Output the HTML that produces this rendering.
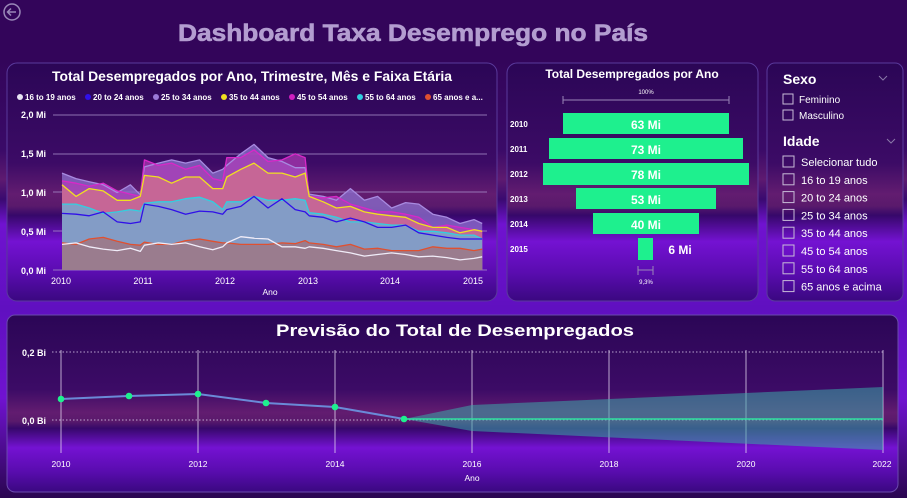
<!DOCTYPE html>
<html><head><meta charset="utf-8"><style>
html,body{margin:0;padding:0;width:907px;height:498px;overflow:hidden;background:#33055a}
svg{display:block}
text{font-family:"Liberation Sans",sans-serif}
.b{font-weight:700}
</style></head><body>
<svg id="s" width="907" height="498" viewBox="0 0 907 498" xmlns="http://www.w3.org/2000/svg">
<defs>
<linearGradient id="pg" x1="0" y1="0" x2="0" y2="1">
<stop offset="0" stop-color="#2b0656"/><stop offset="0.42" stop-color="#3c0b66"/><stop offset="0.55" stop-color="#621c70"/><stop offset="0.6" stop-color="#5a1a6c"/><stop offset="0.64" stop-color="#36086a"/><stop offset="0.75" stop-color="#7412d2"/><stop offset="0.88" stop-color="#5a0cb0"/><stop offset="1" stop-color="#3a0880"/>
</linearGradient>
<linearGradient id="bg" x1="0" y1="0" x2="0" y2="1">
<stop offset="0" stop-color="#33055a"/><stop offset="0.12" stop-color="#33055a"/><stop offset="0.3" stop-color="#3a0a68"/><stop offset="0.36" stop-color="#5e1a70"/><stop offset="0.4" stop-color="#3a0a70"/><stop offset="0.45" stop-color="#7012d0"/><stop offset="0.62" stop-color="#6010c0"/><stop offset="0.8" stop-color="#7012d0"/><stop offset="1" stop-color="#2a0650"/>
</linearGradient>
</defs>
<rect width="907" height="498" fill="url(#bg)"/>
<circle cx="12" cy="12" r="8" fill="none" stroke="#9a88b8" stroke-width="1.5"/>
<path d="M16 12H8M11 8.5L7.5 12L11 15.5" fill="none" stroke="#9a88b8" stroke-width="1.5"/>
<text class="b" x="413" y="41" text-anchor="middle" font-size="24" fill="#b39dd0" stroke="#b39dd0" stroke-width="0.6" textLength="470" lengthAdjust="spacingAndGlyphs">Dashboard  Taxa Desemprego no País</text>

<rect x="7" y="63" width="490" height="238" rx="10" fill="url(#pg)" stroke="#5a3a9c"/>
<rect x="507" y="63" width="251" height="238" rx="10" fill="url(#pg)" stroke="#5a3a9c"/>
<rect x="767" y="63" width="136" height="238" rx="8" fill="url(#pg)" stroke="#5a3a9c"/>
<rect x="7" y="315" width="891" height="177" rx="8" fill="url(#pg)" stroke="#6a4aac"/>

<text class="b" x="252" y="81" text-anchor="middle" font-size="13.5" fill="#fff" textLength="400" lengthAdjust="spacingAndGlyphs">Total Desempregados por Ano, Trimestre, Mês e Faixa Etária</text>
<g font-size="8" class="b" fill="#fff" id="leg"></g>
<g font-size="9" class="b" fill="#fff" text-anchor="end">
<text x="46" y="118">2,0 Mi</text><text x="46" y="157">1,5 Mi</text><text x="46" y="196">1,0 Mi</text><text x="46" y="235">0,5 Mi</text><text x="46" y="274">0,0 Mi</text></g>
<g stroke="#a58cc8" stroke-width="1" opacity="0.8">
<line x1="53" x2="487" y1="115" y2="115"/><line x1="53" x2="487" y1="154" y2="154"/><line x1="53" x2="487" y1="192" y2="192"/><line x1="53" x2="487" y1="231" y2="231"/><line x1="53" x2="487" y1="270" y2="270"/></g>
<g id="areas"></g>
<g font-size="9" fill="#fff" text-anchor="middle">
<text x="61" y="284">2010</text><text x="143" y="284">2011</text><text x="225" y="284">2012</text><text x="308" y="284">2013</text><text x="390" y="284">2014</text><text x="473" y="284">2015</text>
<text x="270" y="295" font-size="8.5">Ano</text></g>

<text class="b" x="632" y="78" text-anchor="middle" font-size="12" fill="#fff">Total Desempregados por Ano</text>
<text x="646" y="94" text-anchor="middle" font-size="6" fill="#fff">100%</text>
<path d="M563 96V104M563 100H729M729 96V104" stroke="#9a86b8" fill="none"/>
<g fill="#1ef08e">
<rect x="563" y="113" width="166" height="21"/><rect x="549" y="138" width="194" height="21"/><rect x="543" y="163" width="206" height="22"/><rect x="576" y="188" width="140" height="21"/><rect x="593" y="213" width="106" height="21"/><rect x="638" y="238" width="15" height="22"/></g>
<g font-size="12" class="b" fill="#fff" text-anchor="middle">
<text x="646" y="129">63 Mi</text><text x="646" y="154">73 Mi</text><text x="646" y="179">78 Mi</text><text x="646" y="204">53 Mi</text><text x="646" y="229">40 Mi</text><text x="680" y="254">6 Mi</text></g>
<g font-size="8" class="b" fill="#fff">
<text x="510" y="127">2010</text><text x="510" y="152">2011</text><text x="510" y="177">2012</text><text x="510" y="202">2013</text><text x="510" y="227">2014</text><text x="510" y="252">2015</text></g>
<path d="M638 266V275M638 270H653M653 266V275" stroke="#9a86b8" fill="none"/>
<text x="646" y="284" text-anchor="middle" font-size="6" fill="#fff">9,3%</text>

<text x="783" y="84" font-size="14" class="b" fill="#fff">Sexo</text>
<path d="M879 76l4 4 4-4" stroke="#8a78a8" fill="none"/>
<text x="783" y="146" font-size="14" class="b" fill="#fff">Idade</text>
<path d="M887 139l4 4 4-4" stroke="#8a78a8" fill="none"/>
<g id="sl" font-size="11" fill="#fff"></g>

<text class="b" x="455" y="336" text-anchor="middle" font-size="17" fill="#fff" textLength="358" lengthAdjust="spacingAndGlyphs">Previsão  do Total  de Desempregados</text>
<g stroke="#d8c8ea" stroke-width="1" stroke-dasharray="1.5,2" opacity="0.8"><line x1="52" x2="885" y1="352" y2="352"/><line x1="52" x2="885" y1="420" y2="420"/></g>
<g stroke="#e8ddf4" stroke-width="1" opacity="0.75">
<line x1="61" x2="61" y1="350" y2="453"/><line x1="198" x2="198" y1="350" y2="453"/><line x1="335" x2="335" y1="350" y2="453"/><line x1="472" x2="472" y1="350" y2="453"/><line x1="609" x2="609" y1="350" y2="453"/><line x1="746" x2="746" y1="350" y2="453"/><line x1="883" x2="883" y1="350" y2="453"/></g>
<polygon points="404,419 472,405 883,387 883,450 472,431" fill="#3aa8a8" opacity="0.55"/>
<line x1="404" x2="883" y1="419" y2="419" stroke="#30e0a0" stroke-width="1.5"/>
<polyline points="61,399 129,396 198,394 266,403 335,407 404,419" fill="none" stroke="#6a8ad8" stroke-width="2"/>
<g fill="#1ef08e"><circle cx="61" cy="399" r="3.3"/><circle cx="129" cy="396" r="3.3"/><circle cx="198" cy="394" r="3.3"/><circle cx="266" cy="403" r="3.3"/><circle cx="335" cy="407" r="3.3"/><circle cx="404" cy="419" r="3.3"/></g>
<g font-size="9" class="b" fill="#fff" text-anchor="end"><text x="46" y="356">0,2 Bi</text><text x="46" y="424">0,0 Bi</text></g>
<g font-size="8.5" fill="#fff" text-anchor="middle">
<text x="61" y="467">2010</text><text x="198" y="467">2012</text><text x="335" y="467">2014</text><text x="472" y="467">2016</text><text x="609" y="467">2018</text><text x="746" y="467">2020</text><text x="882" y="467">2022</text>
<text x="472" y="481">Ano</text></g>
</svg>
<script>
var NS="http://www.w3.org/2000/svg";
function el(t,a,p,txt){var e=document.createElementNS(NS,t);for(var k in a)e.setAttribute(k,a[k]);if(txt)e.textContent=txt;p.appendChild(e);return e;}
var leg=document.getElementById('leg');
var L=[["16 to 19 anos","#e8e4f4",17],["20 to 24 anos","#3010e8",85],["25 to 34 anos","#9a7ad8",153],["35 to 44 anos","#f0e020",221],["45 to 54 anos","#d020c0",289],["55 to 64 anos","#30d0e0",357],["65 anos e a...","#e05030",425]];
L.forEach(function(l){el('circle',{cx:l[2]+3,cy:97,r:3,fill:l[1]},leg);el('text',{x:l[2]+8,y:100},leg,l[0]);});
var X=[0,.17,.33,.5,.67,.83,.95,1.0,1.17,1.33,1.5,1.67,1.83,1.95,2.0,2.17,2.33,2.5,2.67,2.83,2.95,3.0,3.17,3.33,3.5,3.67,3.83,4.0,4.17,4.33,4.5,4.67,4.83,5.0,5.1];
var S={
s25:[1.25,1.18,1.14,1.1,1.0,1.1,0.97,1.33,1.38,1.42,1.38,1.42,1.25,1.3,1.35,1.5,1.62,1.45,1.4,1.32,1.32,0.98,0.95,0.9,1.05,0.9,0.95,0.8,0.87,0.85,0.72,0.68,0.6,0.65,0.6],
s45:[1.15,1.12,1.08,1.12,1.02,0.98,0.95,1.42,1.35,1.38,1.3,1.35,1.18,1.15,1.45,1.45,1.55,1.4,1.42,1.5,1.45,0.95,0.93,0.95,0.85,0.8,0.75,0.75,0.72,0.68,0.55,0.58,0.55,0.52,0.5],
s35:[1.1,0.95,1.05,1.02,0.9,0.9,0.95,1.22,1.2,1.12,1.2,1.2,1.05,1.05,1.2,1.3,1.38,1.25,1.25,1.2,1.25,0.95,0.88,0.8,0.82,0.75,0.72,0.7,0.68,0.6,0.55,0.55,0.48,0.52,0.5],
s55:[0.85,0.85,0.8,0.73,0.75,0.78,0.76,0.86,0.88,0.88,0.92,0.94,0.88,0.78,0.88,0.88,0.95,0.9,0.9,0.92,0.9,0.74,0.72,0.68,0.62,0.62,0.6,0.58,0.58,0.5,0.5,0.48,0.45,0.45,0.4],
s20:[0.73,0.72,0.7,0.75,0.62,0.6,0.62,0.85,0.82,0.78,0.72,0.76,0.75,0.72,0.78,0.82,0.95,0.8,0.92,0.78,0.75,0.7,0.68,0.62,0.67,0.62,0.55,0.55,0.58,0.48,0.45,0.42,0.4,0.4,0.4],
s65:[0.35,0.33,0.4,0.42,0.37,0.33,0.32,0.36,0.33,0.33,0.38,0.4,0.37,0.35,0.35,0.33,0.33,0.33,0.35,0.34,0.38,0.35,0.33,0.3,0.33,0.27,0.28,0.25,0.25,0.25,0.3,0.28,0.28,0.25,0.27],
s16:[0.33,0.35,0.3,0.27,0.25,0.28,0.24,0.32,0.35,0.33,0.35,0.3,0.26,0.3,0.35,0.43,0.41,0.4,0.3,0.3,0.28,0.3,0.28,0.25,0.22,0.18,0.2,0.22,0.2,0.17,0.18,0.16,0.13,0.15,0.17]};
function px(t){return 62+t*82.4;}function py(v){return 270-v*77.5;}
function pts(a){return X.map(function(t,i){return px(t).toFixed(1)+","+py(a[i]).toFixed(1);}).join(" ");}
var g=document.getElementById('areas');
var order=[["s25","#8a6ac8",0.8,"#a88ae0"],["s45","#b03cb8",0.7,"#d828c8"],["s35","#cc6c90",0.85,"#f0e020"],["s55","#7f9fc8",0.95,"#30d0e0"],["s20",null,0,"#3010e8"],["s65","#a07480",0.8,"#e05030"],["s16",null,0,"#f0ecf8"]];
order.forEach(function(o){var p=pts(S[o[0]]);
if(o[1])el('polygon',{points:px(0)+",270 "+p+" "+px(5.1)+",270",fill:o[1],opacity:o[2]},g);});
order.forEach(function(o){el('polyline',{points:pts(S[o[0]]),fill:"none",stroke:o[3],"stroke-width":1.3,"stroke-linejoin":"round"},g);});
var sl=document.getElementById('sl');
[["Feminino",99],["Masculino",115]].forEach(function(a){el('rect',{x:783,y:a[1]-5,width:10,height:10,fill:"none",stroke:"#c8bcd8"},sl);var t=el('text',{x:799,y:a[1]+4},sl,a[0]);t.setAttribute('font-size','10');});
var it=["Selecionar tudo","16 to 19 anos","20 to 24 anos","25 to 34 anos","35 to 44 anos","45 to 54 anos","55 to 64 anos","65 anos e acima"];
it.forEach(function(s,i){var y=162+i*17.8;el('rect',{x:783,y:y-6,width:11,height:11,fill:"none",stroke:"#c8bcd8"},sl);el('text',{x:801,y:y+4},sl,s);});
</script>
</body></html>
